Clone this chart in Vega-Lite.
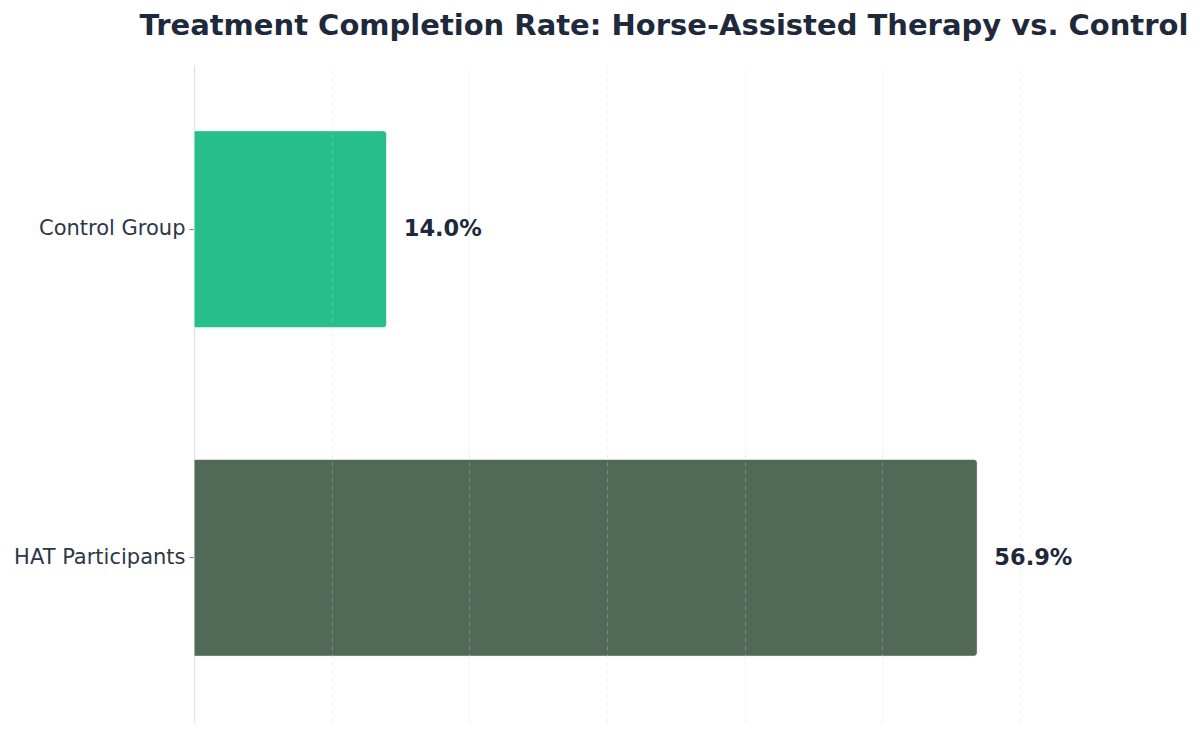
{
  "$schema": "https://vega.github.io/schema/vega-lite/v6.json",
  "width": 1200,
  "height": 735,
  "autosize": {"type": "fit", "contains": "padding"},
  "padding": {"left": 13, "top": 12, "right": 66, "bottom": 13},
  "background": "#ffffff",
  "config": {
    "font": "DejaVu Sans",
    "view": {"stroke": null}
  },
  "title": {
    "text": "Treatment Completion Rate: Horse-Assisted Therapy vs. Control",
    "fontSize": 29,
    "fontWeight": "bold",
    "color": "#1e293b",
    "font": "DejaVu Sans",
    "anchor": "middle",
    "offset": 24
  },
  "data": {
    "values": [
      {"group": "Control Group", "rate": 0.140},
      {"group": "HAT Participants", "rate": 0.569}
    ]
  },
  "encoding": {
    "y": {
      "field": "group",
      "type": "nominal",
      "sort": ["Control Group", "HAT Participants"],
      "scale": {"paddingInner": 0.4, "paddingOuter": 0.2},
      "axis": {
        "title": null,
        "labelFontSize": 21,
        "labelColor": "#2d3748",
        "labelFont": "DejaVu Sans",
        "labelPadding": 4,
        "tickColor": "#718096",
        "tickSize": 5,
        "domainColor": "#dde1e7",
        "domainWidth": 1.2
      }
    },
    "x": {
      "field": "rate",
      "type": "quantitative",
      "scale": {"domain": [0, 0.6828], "nice": false, "zero": true},
      "axis": {
        "title": null,
        "labels": false,
        "ticks": false,
        "domain": false,
        "values": [0.1, 0.2, 0.3, 0.4, 0.5, 0.6],
        "grid": true,
        "gridColor": "#cbd5e1",
        "gridOpacity": 0.35,
        "gridDash": [4, 4],
        "gridWidth": 1,
        "zindex": 1
      }
    }
  },
  "layer": [
    {
      "mark": {
        "type": "bar",
        "cornerRadiusEnd": 4,
        "stroke": "#ffffff",
        "strokeOpacity": 0.5,
        "strokeWidth": 1
      },
      "encoding": {
        "color": {
          "field": "group",
          "type": "nominal",
          "scale": {"domain": ["Control Group", "HAT Participants"], "range": ["#26bf8c", "#516a58"]},
          "legend": null
        }
      }
    },
    {
      "mark": {
        "type": "text",
        "align": "left",
        "baseline": "middle",
        "dx": 17,
        "fontSize": 22.5,
        "fontWeight": "bold",
        "color": "#1e293b",
        "font": "DejaVu Sans"
      },
      "encoding": {
        "text": {"field": "rate", "type": "quantitative", "format": ".1%"}
      }
    }
  ]
}
